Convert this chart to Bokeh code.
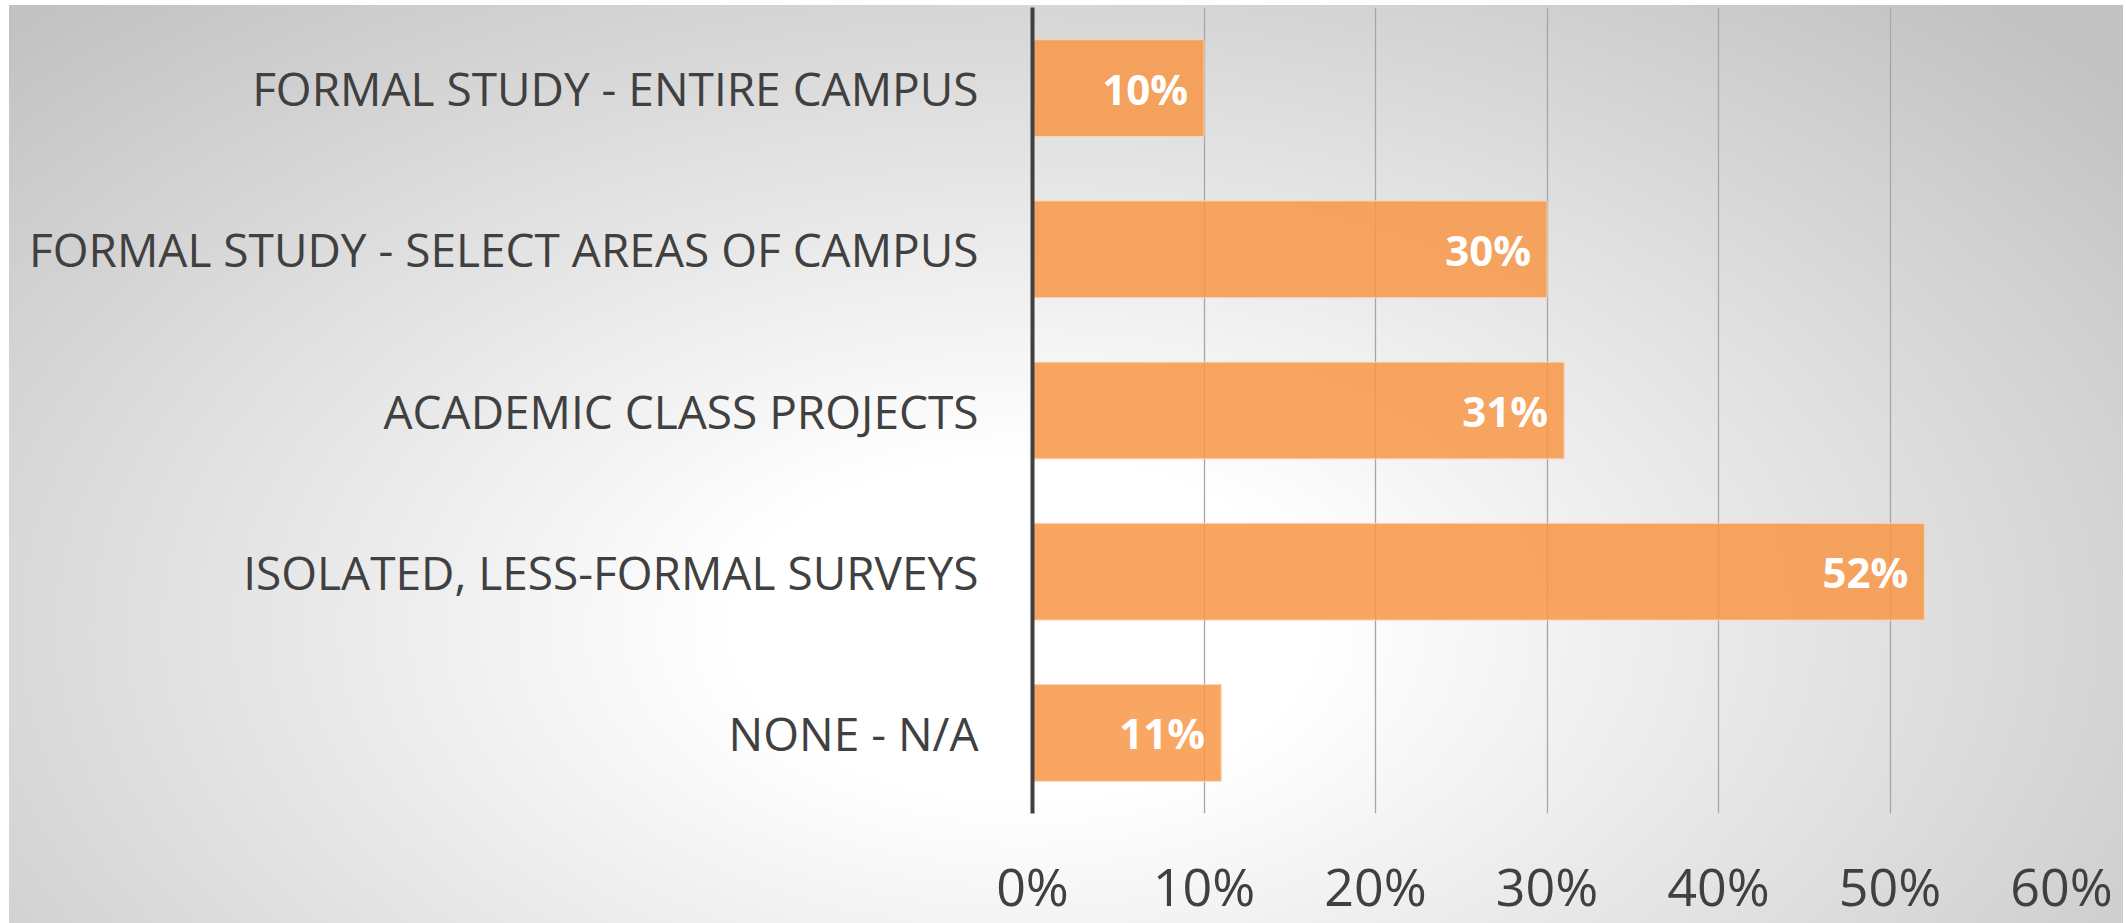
from bokeh.plotting import figure
from bokeh.models import FactorRange, FixedTicker, NumeralTickFormatter, ColumnDataSource
from bokeh.core.properties import value
from bokeh.embed import file_html
from bokeh.resources import INLINE

categories = [
    "FORMAL STUDY - ENTIRE CAMPUS",
    "FORMAL STUDY - SELECT AREAS OF CAMPUS",
    "ACADEMIC CLASS PROJECTS",
    "ISOLATED, LESS-FORMAL SURVEYS",
    "NONE - N/A",
]
values = [0.10, 0.30, 0.31, 0.52, 0.11]
tick_values = [0.0, 0.1, 0.2, 0.3, 0.4, 0.5, 0.6]

labels = [f"{round(v * 100)}%" for v in values]
src = ColumnDataSource(dict(cat=categories, val=values, lab=labels))

bg = ("radial-gradient(ellipse 68% 92% at 48% 68%, #ffffff 0%, #ffffff 20%, #c2c2c2 100%) "
      "9px 5px / calc(100% - 12px) calc(100% - 5px) no-repeat, #ffffff")

p = figure(
    width=2126, height=923,
    y_range=FactorRange(factors=list(reversed(categories)), range_padding=0),
    x_range=(0, 0.6),
    output_backend="svg", toolbar_location=None,
    min_border_left=1032, min_border_right=65, min_border_top=7, min_border_bottom=102,
    background_fill_color=None, border_fill_color=None,
    styles={"background": bg},
)
p.outline_line_color = None

p.hbar(y="cat", right="val", left=0, height=0.6, source=src,
       fill_color="#F79646", fill_alpha=0.85, line_color="#FBD3B0", line_width=1)

p.text(x="val", y="cat", text="lab", source=src, x_offset=-16,
       text_align="right", text_baseline="middle", text_color="white",
       text_font=value("Open Sans"), text_font_style="bold", text_font_size="42px")

p.xaxis.ticker = FixedTicker(ticks=tick_values)
p.xaxis.formatter = NumeralTickFormatter(format="0%")
p.xaxis.axis_line_color = None
p.xaxis.major_tick_line_color = None
p.xaxis.minor_tick_line_color = None
p.xaxis.major_label_text_font = "Open Sans"
p.xaxis.major_label_text_font_size = "52px"
p.xaxis.major_label_text_color = "#404040"
p.xaxis.major_label_standoff = 30

p.yaxis.axis_line_color = "#404040"
p.yaxis.axis_line_width = 4
p.yaxis.major_tick_line_color = None
p.yaxis.minor_tick_line_color = None
p.yaxis.major_label_text_font = "Open Sans"
p.yaxis.major_label_text_font_size = "46px"
p.yaxis.major_label_text_color = "#404040"
p.yaxis.major_label_standoff = 48

p.xgrid.grid_line_color = "#A6A6A6"
p.xgrid.grid_line_width = 1.3
p.ygrid.grid_line_color = None

open("out.html", "w").write(file_html(p, INLINE))
